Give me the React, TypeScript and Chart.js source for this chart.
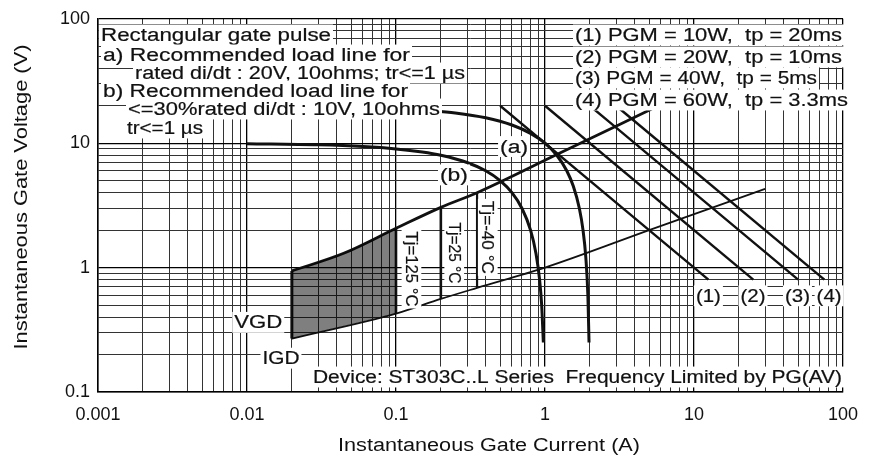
import React, { useEffect, useRef } from 'react';
import { Chart, registerables } from 'chart.js';

Chart.register(...registerables);

// ---------- axis ticks ----------
const xDecades = [0.001, 0.01, 0.1, 1, 10, 100];
const yDecades = [0.1, 1, 10, 100];
const minorSteps = [1, 2, 3, 4, 5, 6, 7, 8, 9];
const xTickLabels = ['0.001', '0.01', '0.1', '1', '10', '100'];
const yTickLabels = ['0.1', '1', '10', '100'];

// ---------- series (I in A, V in V) ----------
// load line (a): 20V, 10 ohms
const lineA_I = [0.15, 0.25, 0.4, 0.6, 0.8, 1.0, 1.2, 1.4, 1.55, 1.7, 1.8, 1.88, 1.94, 1.975];
const lineA_V = [18.5, 17.5, 16, 14, 12, 10, 8, 6, 4.5, 3, 2, 1.2, 0.6, 0.25];
// load line (b): 10V, 10 ohms
const lineB_I = [0.01, 0.03, 0.06, 0.1, 0.15, 0.2, 0.3, 0.4, 0.5, 0.6, 0.7, 0.8, 0.87, 0.92, 0.95, 0.975];
const lineB_V = [9.9, 9.7, 9.4, 9.0, 8.5, 8.0, 7.0, 6.0, 5.0, 4.0, 3.0, 2.0, 1.3, 0.8, 0.5, 0.25];
// power limit lines
const pgm1_I = [0.5, 12.5];
const pgm1_V = [20, 0.8];
const pgm2_I = [1.0, 25];
const pgm2_V = [20, 0.8];
const pgm3_I = [2.0, 50];
const pgm3_V = [20, 0.8];
const pgm4_I = [3.0, 75];
const pgm4_V = [20, 0.8];
// upper / lower gate characteristic limits
const upper_I = [0.02, 0.045, 0.1, 0.2, 0.35, 1.2, 5.2];
const upper_V = [0.94, 1.31, 2.07, 3.05, 4.0, 8.1, 18.8];
const lower_I = [0.02, 0.1, 0.2, 0.35, 1, 5, 30];
const lower_V = [0.269, 0.427, 0.56, 0.687, 1.0, 2.0, 4.3];
// shaded non-trigger region
const shade_I = [0.02, 0.045, 0.1, 0.1, 0.02];
const shade_V = [0.94, 1.31, 2.07, 0.427, 0.269];
// vertical limits
const vgd_I = [0.02, 0.02];
const vgd_V = [0.269, 0.94];
const tj125_I = [0.1, 0.1];
const tj125_V = [0.427, 2.07];
const tj25_I = [0.2, 0.2];
const tj25_V = [0.56, 3.05];
const tjm40_I = [0.35, 0.35];
const tjm40_V = [0.687, 4.0];

// ---------- texts ----------
const noteLines = [
  'Rectangular gate pulse',
  'a) Recommended load line for',
  'rated di/dt : 20V, 10ohms; tr<=1 µs',
  'b) Recommended load line for',
  '<=30%rated di/dt : 10V, 10ohms',
  'tr<=1 µs',
];
const legendLines = [
  '(1) PGM = 10W,  tp = 20ms',
  '(2) PGM = 20W,  tp = 10ms',
  '(3) PGM = 40W,  tp = 5ms',
  '(4) PGM = 60W,  tp = 3.3ms',
];
const deviceText = 'Device: ST303C..L Series  Frequency Limited by PG(AV)';
const xTitle = 'Instantaneous Gate Current (A)';
const yTitle = 'Instantaneous Gate Voltage (V)';
const curveLabels = ['(a)', '(b)', 'VGD', 'IGD', '(1)', '(2)', '(3)', '(4)'];
const curveLabel_I = [0.62, 0.245, 0.0119, 0.0169, 12.5, 24.9, 49.5, 80.7];
const curveLabel_V = [9.4, 5.56, 0.363, 0.187, 0.593, 0.593, 0.593, 0.593];
const tjLabels = ['Tj=125 °C', 'Tj=25 °C', 'Tj=-40 °C'];
const tjLabel_I = [0.127, 0.246, 0.413];
const tjLabel_V = [0.975, 1.31, 1.75];

// ---------- layout / style (not data) ----------
const notePos = [
  [101, 35, 230], [103, 55, 307], [135, 73, 330], [103, 91, 305], [128, 109, 312], [127, 128, 76],
];
const legendPos = [[575, 35, 267], [575, 57, 267], [575, 78, 242], [575, 100, 273]];
const curveLabelW = [28, 28, 48, 37, 25, 25, 25, 25];
const tjLabelW = [75, 61, 73];

const FONT = '"Liberation Sans", Arial, Helvetica, sans-serif';
const INK = '#111';

const zip = (xs: number[], ys: number[]) => xs.map((x, i) => ({ x, y: ys[i] }));
const isDecade = (v: number) => Math.abs(Math.log10(v) - Math.round(Math.log10(v))) < 1e-9;
const buildTicks = (decades: number[]) => {
  const out: number[] = [];
  decades.forEach((d, i) => {
    if (i === decades.length - 1) out.push(d);
    else minorSteps.forEach((m) => out.push(parseFloat((d * m).toPrecision(6))));
  });
  return out;
};
const xTicks = buildTicks(xDecades);
const yTicks = buildTicks(yDecades);

function drawStretched(
  ctx: CanvasRenderingContext2D,
  text: string,
  x: number,
  y: number,
  width: number,
  align: 'left' | 'center',
  rotate = 0,
  bg = true,
  size = 18,
  stroke = 0.2,
) {
  ctx.save();
  ctx.font = `${size}px ${FONT}`;
  const m = ctx.measureText(text).width;
  const sx = width / m;
  ctx.translate(x, y);
  if (rotate) ctx.rotate(rotate);
  const x0 = align === 'left' ? 0 : -width / 2;
  if (bg) {
    ctx.fillStyle = '#fff';
    ctx.fillRect(x0 - 2, -size * 0.58, width + 4, size * 1.16);
  }
  ctx.scale(sx, 1);
  ctx.fillStyle = INK;
  ctx.textBaseline = 'middle';
  ctx.textAlign = 'left';
  ctx.fillText(text, x0 / sx, 1);
  if (stroke > 0) {
    ctx.strokeStyle = INK;
    ctx.lineWidth = stroke;
    ctx.strokeText(text, x0 / sx, 1);
  }
  ctx.restore();
}

const textPlugin = {
  id: 'gateTexts',
  afterDraw(chart: any) {
    const ctx: CanvasRenderingContext2D = chart.ctx;
    const xs = chart.scales.x;
    const ys = chart.scales.y;
    noteLines.forEach((t, i) => drawStretched(ctx, t, notePos[i][0], notePos[i][1], notePos[i][2], 'left'));
    legendLines.forEach((t, i) => drawStretched(ctx, t, legendPos[i][0], legendPos[i][1], legendPos[i][2], 'left'));
    drawStretched(ctx, deviceText, 313, 377, 529, 'left');
    curveLabels.forEach((t, i) =>
      drawStretched(ctx, t, xs.getPixelForValue(curveLabel_I[i]), ys.getPixelForValue(curveLabel_V[i]), curveLabelW[i], 'center'),
    );
    tjLabels.forEach((t, i) =>
      drawStretched(ctx, t, xs.getPixelForValue(tjLabel_I[i]), ys.getPixelForValue(tjLabel_V[i]), tjLabelW[i], 'center', Math.PI / 2, true, 17),
    );
    drawStretched(ctx, xTitle, 489, 445, 302, 'center', 0, false, 18, 0);
    drawStretched(ctx, yTitle, 21, 197, 305, 'center', -Math.PI / 2, false, 18, 0);
  },
};

function line(data: { x: number; y: number }[], width: number) {
  return {
    data,
    showLine: true,
    borderColor: INK,
    borderWidth: width,
    pointRadius: 0,
    fill: false,
    cubicInterpolationMode: 'monotone' as const,
  };
}

export default function App() {
  const ref = useRef<HTMLCanvasElement | null>(null);
  useEffect(() => {
    if (!ref.current) return;
    const gridColor = (c: any) => (c.tick && isDecade(c.tick.value) ? '#000' : '#333');
    const gridWidth = (c: any) => (c.tick && isDecade(c.tick.value) ? 1.3 : 1);
    const chart = new Chart(ref.current, {
      type: 'scatter',
      data: {
        datasets: [
          {
            data: zip(shade_I, shade_V),
            showLine: true,
            borderWidth: 0,
            borderColor: 'rgba(0,0,0,0)',
            backgroundColor: 'rgba(0,0,0,0.5)',
            pointRadius: 0,
            fill: 'shape',
          } as any,
          line(zip(lineA_I, lineA_V), 3),
          line(zip(lineB_I, lineB_V), 3),
          line(zip(pgm1_I, pgm1_V), 2.4),
          line(zip(pgm2_I, pgm2_V), 2.4),
          line(zip(pgm3_I, pgm3_V), 2.4),
          line(zip(pgm4_I, pgm4_V), 2.4),
          line(zip(upper_I, upper_V), 2.8),
          line(zip(lower_I, lower_V), 1.8),
          line(zip(vgd_I, vgd_V), 3),
          line(zip(tj125_I, tj125_V), 2.6),
          line(zip(tj25_I, tj25_V), 2.6),
          line(zip(tjm40_I, tjm40_V), 2.2),
        ],
      },
      options: {
        responsive: false,
        maintainAspectRatio: false,
        animation: false,
        events: [],
        layout: { padding: { left: 0, top: 16, right: 19, bottom: 0 } },
        plugins: { legend: { display: false }, tooltip: { enabled: false }, title: { display: false } },
        scales: {
          x: {
            type: 'logarithmic',
            position: 'bottom',
            min: 0.001,
            max: 100,
            afterBuildTicks: (s: any) => {
              s.ticks = xTicks.map((v) => ({ value: v, major: isDecade(v) }));
            },
            afterFit: (s: any) => {
              s.height = 64;
            },
            ticks: {
              autoSkip: false,
              maxRotation: 0,
              minRotation: 0,
              padding: 12,
              color: INK,
              font: { family: FONT, size: 18 },
              callback: (v: any) => {
                const i = xDecades.findIndex((d) => Math.abs(d - Number(v)) < d * 1e-6);
                return i >= 0 ? xTickLabels[i] : '';
              },
            },
            grid: { drawTicks: false, color: gridColor, lineWidth: gridWidth },
            border: { display: true, color: '#000', width: 1.5 },
          },
          y: {
            type: 'logarithmic',
            position: 'left',
            min: 0.1,
            max: 100,
            afterBuildTicks: (s: any) => {
              s.ticks = yTicks.map((v) => ({ value: v, major: isDecade(v) }));
            },
            afterFit: (s: any) => {
              s.width = 98;
            },
            ticks: {
              autoSkip: false,
              padding: 8,
              color: INK,
              font: { family: FONT, size: 18 },
              callback: (v: any) => {
                const i = yDecades.findIndex((d) => Math.abs(d - Number(v)) < d * 1e-6);
                return i >= 0 ? yTickLabels[i] : '';
              },
            },
            grid: { drawTicks: false, color: gridColor, lineWidth: gridWidth },
            border: { display: true, color: '#000', width: 1.5 },
          },
        },
      } as any,
      plugins: [textPlugin],
    });
    return () => chart.destroy();
  }, []);

  return (
    <div style={{ position: 'fixed', left: 0, top: 0, width: 870, height: 456, background: '#fff' }}>
      <canvas ref={ref} width={870} height={456} style={{ display: 'block', width: 870, height: 456 }} />
    </div>
  );
}
